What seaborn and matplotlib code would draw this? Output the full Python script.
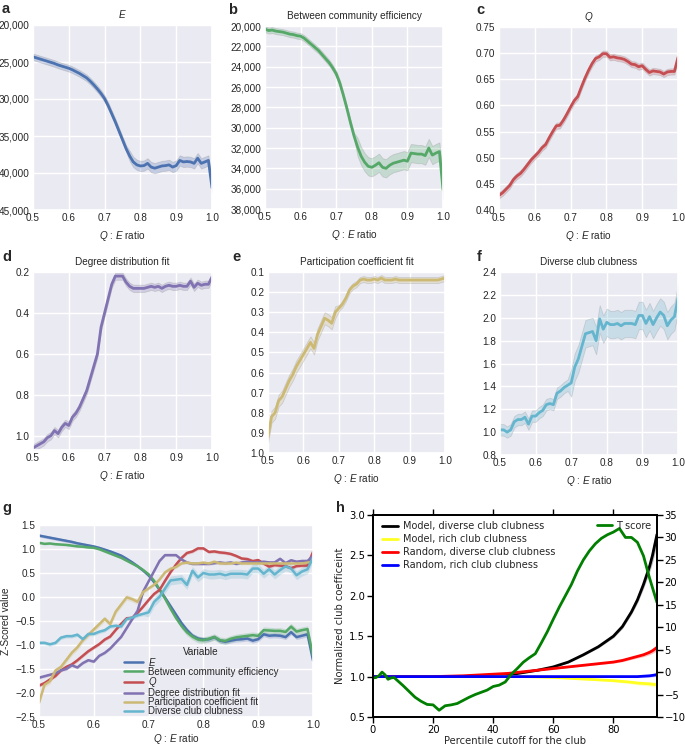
import numpy as np
import pandas as pd
import matplotlib
matplotlib.use("Agg")
import matplotlib.pyplot as plt
import seaborn as sns
from matplotlib.ticker import FuncFormatter, MultipleLocator

# ---------------- data ----------------
ratio = [round(0.50 + 0.01 * i, 2) for i in range(51)]

E_vals = [24300, 24450, 24600, 24750, 24900, 25050, 25200, 25400, 25550, 25700,
          25850, 26050, 26300, 26550, 26850, 27150, 27600, 28100, 28650, 29250,
          29950, 30900, 32000, 33100, 34300, 35500, 36700, 37700, 38500, 38900,
          39050, 39000, 38700, 39200, 39350, 39200, 39050, 39000, 38900, 39200,
          39000, 38300, 38500, 38450, 38500, 38700, 38000, 38700, 38500, 38300,
          42000]
BCE_vals = [20300, 20450, 20400, 20500, 20550, 20600, 20700, 20800, 20850, 20950,
            21000, 21200, 21500, 21800, 22100, 22400, 22800, 23200, 23600, 24100,
            24700, 25600, 26800, 28100, 29500, 30800, 31900, 32800, 33400, 33800,
            33900, 33700, 33450, 33900, 34000, 33700, 33500, 33400, 33300, 33200,
            33300, 32500, 32550, 32600, 32600, 32750, 32000, 32700, 32500, 32350,
            36100]
Q_vals = [0.428, 0.433, 0.440, 0.447, 0.458, 0.465, 0.470, 0.478, 0.487, 0.496,
          0.503, 0.510, 0.519, 0.525, 0.538, 0.550, 0.561, 0.562, 0.572, 0.584,
          0.597, 0.609, 0.617, 0.635, 0.652, 0.667, 0.680, 0.690, 0.693, 0.699,
          0.699, 0.692, 0.693, 0.691, 0.690, 0.688, 0.684, 0.679, 0.678, 0.674,
          0.676, 0.669, 0.663, 0.666, 0.665, 0.664, 0.660, 0.664, 0.665, 0.665,
          0.692]
DEG_vals = [1.06, 1.05, 1.04, 1.03, 1.01, 1.00, 0.975, 0.99, 0.96, 0.94,
            0.95, 0.91, 0.89, 0.86, 0.82, 0.78, 0.72, 0.66, 0.60, 0.47,
            0.40, 0.33, 0.26, 0.22, 0.22, 0.22, 0.25, 0.27, 0.28, 0.28,
            0.28, 0.28, 0.275, 0.27, 0.275, 0.27, 0.28, 0.27, 0.265, 0.27,
            0.27, 0.265, 0.27, 0.27, 0.245, 0.275, 0.255, 0.265, 0.26, 0.26,
            0.225]
PC_vals = [0.92, 0.82, 0.80, 0.74, 0.72, 0.68, 0.64, 0.61, 0.57, 0.54,
           0.51, 0.48, 0.45, 0.48, 0.41, 0.37, 0.33, 0.34, 0.355, 0.30,
           0.28, 0.26, 0.23, 0.19, 0.17, 0.16, 0.14, 0.135, 0.14, 0.14,
           0.135, 0.14, 0.13, 0.14, 0.14, 0.14, 0.135, 0.14, 0.14, 0.14,
           0.14, 0.14, 0.14, 0.14, 0.14, 0.14, 0.14, 0.14, 0.14, 0.135,
           0.13]
DC_vals = [1.02, 1.02, 1.00, 1.02, 1.09, 1.11, 1.11, 1.13, 1.07, 1.14,
           1.14, 1.17, 1.19, 1.24, 1.25, 1.24, 1.34, 1.36, 1.39, 1.41,
           1.43, 1.57, 1.64, 1.75, 1.86, 1.87, 1.88, 1.80, 1.99, 1.90,
           1.96, 1.94, 1.94, 1.95, 1.93, 1.95, 1.95, 1.95, 1.94, 2.02,
           2.02, 1.95, 2.01, 1.94, 2.00, 2.05, 2.02, 1.93, 1.98, 2.01,
           2.17]

# half widths of the shaded bands (early part / late part)
E_band = [450] * 27 + [700] * 24
BCE_band = [300] * 26 + [900] * 25
Q_band = [0.006] * 51
DEG_band = [0.018] * 51
PC_band = [0.03] * 20 + [0.015] * 31
DC_band = [0.05] * 20 + [0.12] * 31

titles = ["$E$", "Between community efficiency", "$Q$",
          "Degree distribution fit", "Participation coefficient fit",
          "Diverse club clubness"]
legend_labels = ["$E$", "Between community efficiency", "$Q$",
                 "Degree distribution fit", "Participation coefficient fit",
                 "Diverse club clubness"]
# z-scoring parameters (mean, std, sign)
z_mean = [33012, 27871, 0.603, 0.507, 0.328, 1.637]
z_std = [6806, 6700, 0.0948, 0.329, 0.269, 0.646]
z_sign = [-1, -1, 1, -1, -1, 1]

# panel h
club_x = [0, 10, 20, 30, 40, 45, 50, 55, 60, 65, 70, 75, 80, 83, 86, 88, 90, 92, 93, 94.5]
model_diverse = [1.0, 1.0, 1.0, 1.0, 1.01, 1.02, 1.05, 1.08, 1.12, 1.18, 1.27, 1.37,
                 1.50, 1.62, 1.80, 1.95, 2.14, 2.36, 2.50, 2.76]
model_rich = [1.0, 1.0, 1.0, 1.0, 1.0, 1.0, 1.0, 0.995, 0.99, 0.98, 0.97, 0.96,
              0.95, 0.94, 0.93, 0.92, 0.915, 0.91, 0.905, 0.90]
random_diverse = [1.0, 1.0, 1.0, 1.01, 1.03, 1.04, 1.06, 1.08, 1.10, 1.12, 1.14, 1.16,
                  1.18, 1.20, 1.23, 1.25, 1.27, 1.30, 1.32, 1.36]
random_rich = [1.0, 1.0, 1.0, 1.0, 1.0, 1.0, 1.0, 1.0, 1.0, 1.0, 1.0, 1.0,
               1.0, 1.0, 1.0, 1.0, 1.005, 1.01, 1.015, 1.025]
model_diverse_band = [0, 0, 0, 0, 0.003, 0.004, 0.005, 0.006, 0.008, 0.01, 0.012, 0.015,
                      0.02, 0.025, 0.03, 0.04, 0.05, 0.07, 0.09, 0.12]
model_rich_band = [0, 0, 0, 0, 0.003, 0.004, 0.005, 0.006, 0.008, 0.01, 0.01, 0.012,
                   0.015, 0.017, 0.02, 0.022, 0.025, 0.028, 0.03, 0.035]
random_diverse_band = [0, 0, 0, 0.003, 0.004, 0.005, 0.006, 0.007, 0.008, 0.009, 0.01, 0.012,
                       0.014, 0.016, 0.018, 0.02, 0.024, 0.028, 0.032, 0.04]
random_rich_band = [0, 0, 0, 0, 0.002, 0.003, 0.004, 0.005, 0.006, 0.006, 0.007, 0.008,
                    0.009, 0.01, 0.011, 0.012, 0.014, 0.016, 0.018, 0.022]
club_labels = ["Model, diverse club clubness", "Model, rich club clubness",
               "Random, diverse club clubness", "Random, rich club clubness"]
club_colors = ["black", "#ffff22", "red", "blue"]

t_x = [0, 1, 2, 3, 4, 5, 6, 7, 8, 10, 12, 14, 16, 18, 20, 22, 24, 26, 28, 30, 32, 34,
       36, 38, 40, 42, 44, 46, 48, 50, 52, 54, 56, 58, 60, 62, 64, 66, 68, 70, 72, 74,
       76, 78, 80, 82, 83, 84, 86, 88, 90, 92, 94.5]
t_score = [-1.3, -1.2, -0.8, 0.0, -0.6, -1.6, -1.3, -1.2, -1.8, -3.0, -4.3, -5.6, -6.5,
           -7.2, -7.3, -8.5, -7.5, -7.3, -7.0, -6.3, -5.6, -5.0, -4.5, -4.0, -3.2, -2.9,
           -2.2, -0.5, 0.8, 2.2, 3.2, 4.1, 6.5, 9.0, 11.8, 14.5, 17.0, 19.5, 22.5, 25.0,
           27.0, 28.6, 29.8, 30.6, 31.2, 32.0, 31.0, 30.0, 30.0, 28.9, 25.9, 21.0, 15.5]

# ---------------- style ----------------
sns.set_theme(style="darkgrid", palette="deep")
plt.rcParams["font.family"] = ["Liberation Sans", "DejaVu Sans"]
plt.rcParams["mathtext.fontset"] = "custom"
plt.rcParams["mathtext.it"] = "Liberation Sans:italic"
plt.rcParams["mathtext.rm"] = "Liberation Sans"
plt.rcParams["axes.unicode_minus"] = True

colors = ["#4C72B0", "#55A868", "#C44E52", "#8172B2", "#CCB974", "#64B5CD"]
W, H = 685, 745
fig = plt.figure(figsize=(W / 100, H / 100), dpi=100)


def box(l, r, t, b):
    return [l / W, 1 - b / H, (r - l) / W, (b - t) / H]


TICK_FS = 7.2
LAB_FS = 7.2
xlab = "$Q$ : $E$ ratio"

panels = [
    (box(33, 212, 25, 210), E_vals, E_band, (45000, 20000), 5000, lambda v, p: f"{v:,.0f}"),
    (box(265, 443, 26, 209), BCE_vals, BCE_band, (38000, 20000), 2000, lambda v, p: f"{v:,.0f}"),
    (box(499, 678, 27, 210), Q_vals, Q_band, (0.40, 0.75), 0.05, lambda v, p: f"{v:.2f}"),
    (box(33, 212, 272, 450), DEG_vals, DEG_band, (1.07, 0.2), 0.2, lambda v, p: f"{v:.1f}"),
    (box(268, 445, 272, 453), PC_vals, PC_band, (1.0, 0.1), 0.1, lambda v, p: f"{v:.1f}"),
    (box(500, 678, 272, 455), DC_vals, DC_band, (0.8, 2.4), 0.2, lambda v, p: f"{v:.1f}"),
]

for i, (rect, vals, band, ylim, step, fmt) in enumerate(panels):
    ax = fig.add_axes(rect)
    v = np.array(vals, dtype=float)
    bnd = np.array(band, dtype=float)
    ax.fill_between(ratio, v - bnd, v + bnd, color=colors[i], alpha=0.25, lw=0.6,
                    edgecolor=(0.5, 0.5, 0.5, 0.4))
    sns.lineplot(x=ratio, y=vals, ax=ax, color=colors[i], lw=2.0)
    ax.set_xlim(0.5, 1.0)
    ax.set_ylim(*ylim)
    lo, hi = min(ylim), max(ylim)
    ax.set_yticks(np.arange(lo, hi + step / 2, step))
    ax.yaxis.set_major_formatter(FuncFormatter(fmt))
    ax.set_xticks(np.arange(0.5, 1.01, 0.1))
    ax.xaxis.set_major_formatter(FuncFormatter(lambda v, p: f"{v:.1f}"))
    ax.tick_params(labelsize=TICK_FS, length=0, pad=2.5)
    ax.set_title(titles[i], fontsize=7.2, pad=5)
    ax.set_xlabel(xlab, fontsize=LAB_FS, labelpad=4)
    ax.set_ylabel("")

# ---------------- panel g ----------------
axg = fig.add_axes(box(39, 313, 525, 717))
rows = []
raw_sets = [E_vals, BCE_vals, Q_vals, DEG_vals, PC_vals, DC_vals]
raw_bands = [E_band, BCE_band, Q_band, DEG_band, PC_band, DC_band]
for k in range(6):
    v = np.array(raw_sets[k], dtype=float)
    z = z_sign[k] * (v - z_mean[k]) / z_std[k]
    zb = np.array(raw_bands[k], dtype=float) / z_std[k]
    axg.fill_between(ratio, z - zb * 0.5, z + zb * 0.5, color=colors[k], alpha=0.25, lw=0)
    for xx, zz in zip(ratio, z):
        rows.append({"ratio": xx, "z": zz, "Variable": legend_labels[k]})
df = pd.DataFrame(rows)
sns.lineplot(data=df, x="ratio", y="z", hue="Variable", palette=colors, ax=axg, lw=1.8,
             hue_order=legend_labels)
axg.set_xlim(0.5, 1.0)
axg.set_ylim(-2.5, 1.5)
axg.yaxis.set_major_locator(MultipleLocator(0.5))
axg.set_xticks(np.arange(0.5, 1.01, 0.1))
axg.xaxis.set_major_formatter(FuncFormatter(lambda v, p: f"{v:.1f}"))
axg.tick_params(labelsize=TICK_FS, length=0, pad=2.5)
axg.set_xlabel(xlab, fontsize=LAB_FS, labelpad=1)
axg.set_ylabel("Z-Scored value", fontsize=LAB_FS, labelpad=3)
handles, labels = axg.get_legend_handles_labels()
leg = axg.legend(handles, labels, title="Variable", loc="lower left",
                 bbox_to_anchor=(0.29, -0.025), frameon=False, fontsize=7,
                 title_fontsize=7.2, labelspacing=-0.12, handlelength=1.9,
                 handletextpad=0.5, borderaxespad=0.2)

# ---------------- panel h ----------------
with sns.axes_style("ticks"):
    axh = fig.add_axes(box(373, 657, 515, 717))
    axh.set_facecolor("white")
    club_series = [model_diverse, model_rich, random_diverse, random_rich]
    club_bands = [model_diverse_band, model_rich_band, random_diverse_band, random_rich_band]
    for s, b, c in zip(club_series, club_bands, club_colors):
        s_arr = np.array(s)
        b_arr = np.array(b)
        axh.fill_between(club_x, s_arr - b_arr, s_arr + b_arr, color=c, alpha=0.25, lw=0)
    for s, c, lab in zip(club_series, club_colors, club_labels):
        sns.lineplot(x=club_x, y=s, ax=axh, color=c, lw=2.0, label=lab)
    axh.set_xlim(0, 94.5)
    axh.set_ylim(0.5, 3.0)
    axh.set_xticks([0, 20, 40, 60, 80])
    axh.yaxis.set_major_locator(MultipleLocator(0.5))
    axh.tick_params(labelsize=TICK_FS, direction="out", length=4, width=1,
                    top=True, colors="black", pad=1.5)
    for sp in axh.spines.values():
        sp.set_color("black")
        sp.set_linewidth(1.3)
        sp.set_visible(True)
    axh.grid(False)
    axh.set_xlabel("Percentile cutoff for the club", fontsize=LAB_FS, labelpad=1)
    axh.set_ylabel("Normalized club coefficeint", fontsize=LAB_FS, labelpad=3)
    axh.legend(loc="upper left", frameon=False, fontsize=7, labelspacing=0.3,
               handlelength=1.6, handletextpad=0.5, borderaxespad=0.25,
               bbox_to_anchor=(0.01, 1.0))

    axt = axh.twinx()
    sns.lineplot(x=t_x, y=t_score, ax=axt, color="#007f00", lw=2.0, label="T score")
    axt.set_ylim(-10, 35)
    axt.yaxis.set_major_locator(MultipleLocator(5))
    axt.tick_params(labelsize=TICK_FS, direction="out", length=4, width=1,
                    colors="black", pad=1.5)
    for sp in axt.spines.values():
        sp.set_color("black")
        sp.set_linewidth(1.3)
    axt.grid(False)
    axt.set_ylabel("")
    axt.legend(loc="upper right", frameon=False, fontsize=7, handlelength=1.6,
               handletextpad=0.4, borderaxespad=0.2)

# ---------------- panel letters ----------------
for letter, (px, py) in zip("abcdefgh", [(2, 9), (228, 10), (476, 10), (2, 257),
                                         (232, 257), (477, 257), (2, 508), (336, 508)]):
    fig.text(px / W, 1 - py / H, letter, fontsize=10.5, fontweight="bold",
             va="center", ha="left")

fig.savefig("out.png", dpi=100)
